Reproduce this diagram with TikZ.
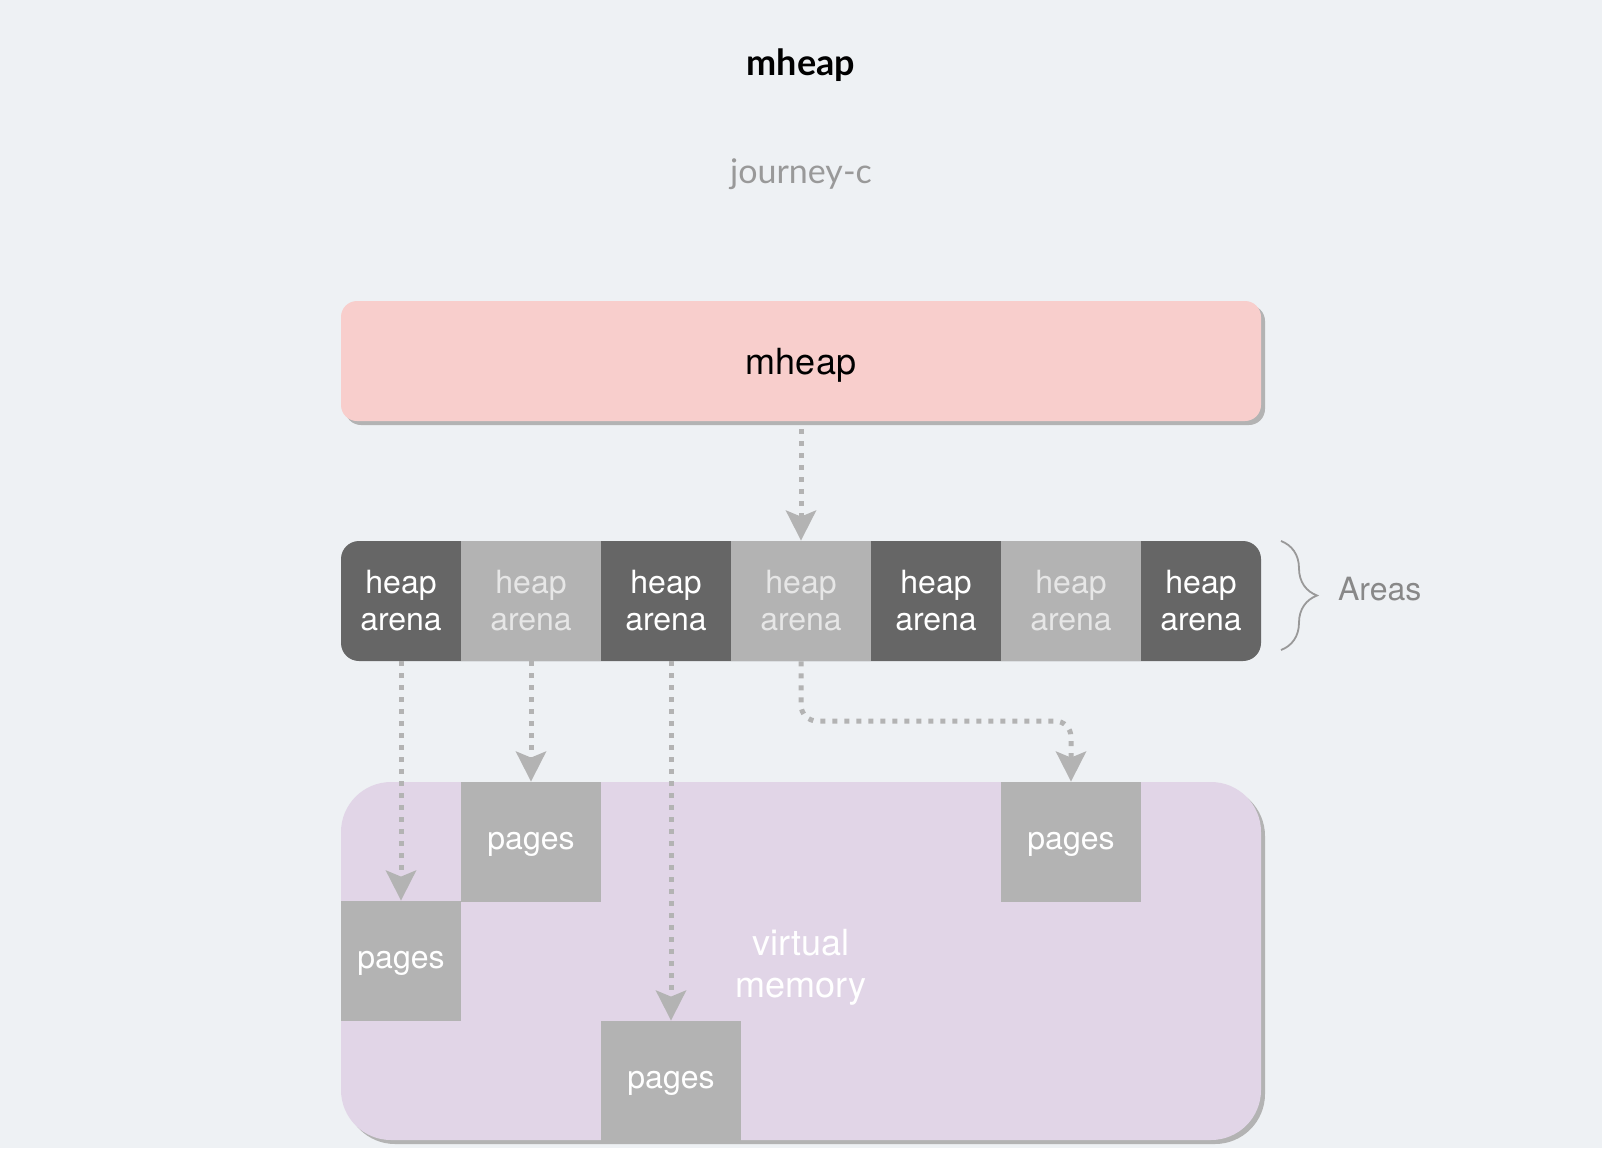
\documentclass[tikz,border=0pt]{standalone}
\usepackage{fontspec}
\setmainfont{TeX Gyre Heros}
\newfontfamily\handfont{Lato}
\usetikzlibrary{arrows.meta,shadows,decorations.pathreplacing}

\definecolor{bgcol}{HTML}{EEF1F4}
\definecolor{mheappink}{HTML}{F8CECC}
\definecolor{vmpurple}{HTML}{E1D5E7}
\definecolor{darkcell}{HTML}{666666}
\definecolor{lightcell}{HTML}{B3B3B3}
\definecolor{lighttext}{HTML}{E6E6E6}
\definecolor{shadowgray}{HTML}{B3B3B3}
\definecolor{linegray}{HTML}{B3B3B3}
\definecolor{bracegray}{HTML}{999999}
\definecolor{areatext}{HTML}{888888}

\tikzset{
  boxshadow/.style={drop shadow={shadow xshift=2pt, shadow yshift=-2pt, fill=shadowgray, opacity=1}},
  cell/.style={minimum height=60pt, inner sep=0pt, align=center, font=\fontsize{16}{18.5}\selectfont},
  darkarena/.style={cell, text=white},
  lightarena/.style={cell, fill=lightcell, text=lighttext},
  pagebox/.style={minimum height=60pt, inner sep=0pt, text depth=1pt, fill=lightcell, text=white, font=\fontsize{16}{19}\selectfont},
  flow/.style={draw=linegray, line width=2.5pt, dash pattern=on 2.5pt off 3.5pt, -{Stealth[length=15pt,width=15pt,inset=3pt]}},
}

\begin{document}
\begin{tikzpicture}[x=0.5pt,y=-0.5pt]
\fill[bgcol] (0,0) rectangle (1602,1148);
\useasboundingbox (0,0) rectangle (1602,1148);

% titles
\node[font=\handfont\bfseries\fontsize{18}{21}\selectfont] (title) at (801,65) {mheap};
\node[font=\handfont\fontsize{17}{20}\selectfont, text=bracegray] (sub) at (801,174) {journey-c};

% mheap
\node[rounded corners=8pt, fill=mheappink, boxshadow, minimum width=460pt, minimum height=60pt, text depth=0pt, font=\fontsize{18}{22}\selectfont] (mheap) at (801,361) {mheap};

% arenas
\node[rounded corners=9pt, fill=darkcell, minimum width=460pt, minimum height=60pt, inner sep=0pt] (row) at (801,601) {};
\node[darkarena, minimum width=60pt] (a1) at (401,601) {heap\\arena};
\node[lightarena, minimum width=70pt] (a2) at (531,601) {heap\\arena};
\node[darkarena, minimum width=65pt] (a3) at (666,601) {heap\\arena};
\node[lightarena, minimum width=70pt] (a4) at (801,601) {heap\\arena};
\node[darkarena, minimum width=65pt] (a5) at (936,601) {heap\\arena};
\node[lightarena, minimum width=70pt] (a6) at (1071,601) {heap\\arena};
\node[darkarena, minimum width=60pt] (a7) at (1201,601) {heap\\arena};

\coordinate (bt) at (1281,541);
\coordinate (bb) at (1281,650);
\draw[bracegray, line width=0.9pt, decorate, decoration={brace, amplitude=18pt}] (bt) -- (bb);
\node[anchor=west, text=areatext, font=\fontsize{16}{19}\selectfont] (areas) at (1331,589) {Areas};

% virtual memory
\node[rounded corners=25pt, fill=vmpurple, boxshadow, minimum width=460pt, minimum height=179pt] (vm) at (801,961) {};
\node[text=white, align=center, font=\fontsize{18}{21}\selectfont] (vmlabel) at (801,967) {virtual\\memory};
\node[pagebox, minimum width=70pt] (p1) at (531,842) {pages};
\node[pagebox, minimum width=70pt] (p2) at (1071,842) {pages};
\node[pagebox, minimum width=60pt] (p3) at (401,961) {pages};
\node[pagebox, minimum width=70pt] (p4) at (671,1081) {pages};

% links
\draw[flow, shorten <=4pt] (mheap.south) -- (row.north);
\draw[flow] (a1.south) -- (p3.north);
\draw[flow] (a2.south) -- (p1.north);
\draw[flow] (a3.south -| p4.north) -- (p4.north);
\coordinate (bend) at (801,721);
\draw[flow, rounded corners=8pt] (a4.south) -- (bend) -| (p2.north);
\end{tikzpicture}
\end{document}
